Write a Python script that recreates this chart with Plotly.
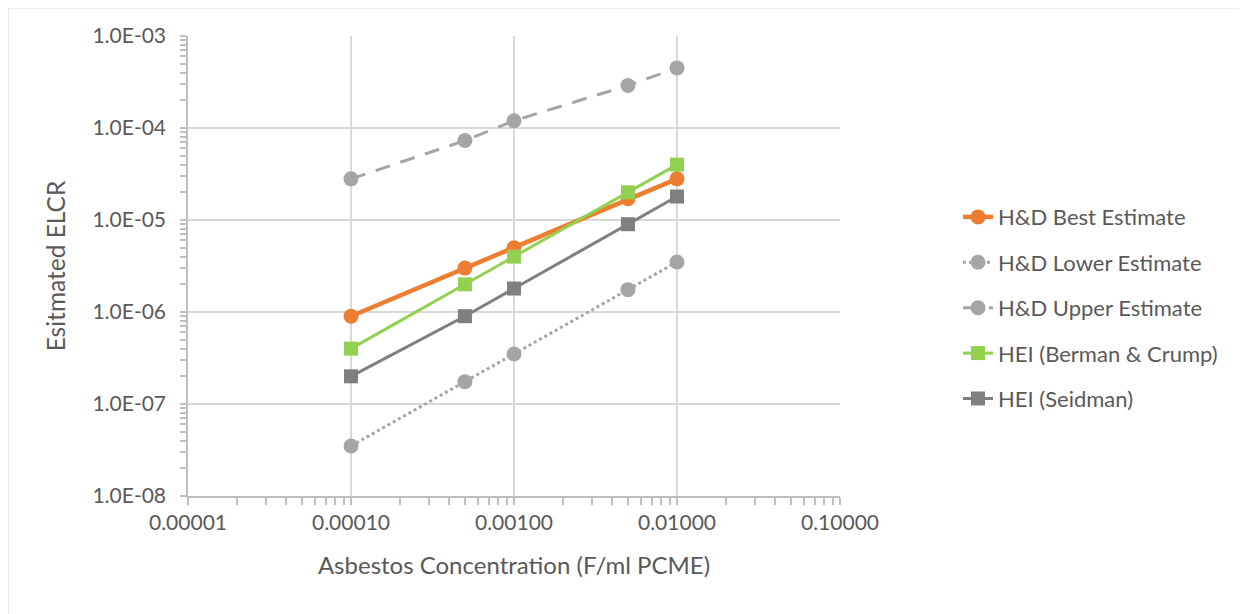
import plotly.graph_objects as go

# ---- data ----
concentration = [0.0001, 0.0005, 0.001, 0.005, 0.01]
hd_best = [9.0e-7, 3.0e-6, 5.0e-6, 1.7e-5, 2.8e-5]
hd_lower = [3.5e-8, 1.75e-7, 3.5e-7, 1.75e-6, 3.5e-6]
hd_upper = [2.8e-5, 7.3e-5, 1.2e-4, 2.9e-4, 4.5e-4]
hei_berman = [4.0e-7, 2.0e-6, 4.0e-6, 2.0e-5, 4.0e-5]
hei_seidman = [2.0e-7, 9.0e-7, 1.8e-6, 9.0e-6, 1.8e-5]

x_tickvals = [1e-5, 1e-4, 1e-3, 1e-2, 1e-1]
x_ticktext = ["0.00001", "0.00010", "0.00100", "0.01000", "0.10000"]
y_tickvals = [1e-8, 1e-7, 1e-6, 1e-5, 1e-4, 1e-3]
y_ticktext = ["1.0E-08", "1.0E-07", "1.0E-06", "1.0E-05", "1.0E-04", "1.0E-03"]

FONT = "Lato, 'Open Sans', sans-serif"
TXT = "#595959"
GRID = "#D9D9D9"
AXIS = "#BFBFBF"

series = [
    ("H&D Best Estimate", hd_best, "#ED7D31", "solid", 4.5, "circle", 15),
    ("H&D Lower Estimate", hd_lower, "#A5A5A5", "dot", 3, "circle", 15),
    ("H&D Upper Estimate", hd_upper, "#A5A5A5", "15px,11px", 3, "circle", 15),
    ("HEI (Berman & Crump)", hei_berman, "#92D050", "solid", 3, "square", 14),
    ("HEI (Seidman)", hei_seidman, "#7F7F7F", "solid", 3, "square", 14),
]

fig = go.Figure()
for i, (name, vals, color, dash, width, sym, msize) in enumerate(series):
    fig.add_trace(go.Scatter(
        x=concentration, y=vals, name=name, mode="lines+markers",
        line=dict(color=color, width=width, dash=dash),
        marker=dict(color=color, symbol=sym, size=msize),
        legendgroup=f"g{i}",
    ))

minor_x = [m * 10 ** e for e in range(-5, -1) for m in range(2, 10)]
minor_y = [m * 10 ** e for e in range(-8, -3) for m in range(2, 10)]

fig.update_xaxes(
    type="log", range=[-5, -1],
    tickmode="array", tickvals=x_tickvals, ticktext=x_ticktext,
    showgrid=True, gridcolor=GRID, gridwidth=1.5,
    showline=True, linecolor=AXIS, linewidth=1.5,
    ticks="outside", ticklen=7, tickcolor=AXIS, tickwidth=1.5,
    tickfont=dict(family=FONT, size=21, color=TXT),
    minor=dict(tickmode="array", tickvals=minor_x, ticks="outside", ticklen=7,
               tickcolor=AXIS, tickwidth=1.5, showgrid=False),
    title=dict(text="Asbestos Concentration (F/ml PCME)",
               font=dict(family=FONT, size=24, color=TXT), standoff=24),
    zeroline=False,
)
fig.update_yaxes(
    type="log", range=[-8, -3],
    tickmode="array", tickvals=y_tickvals, ticktext=y_ticktext,
    showgrid=True, gridcolor=GRID, gridwidth=1.5,
    showline=True, linecolor=AXIS, linewidth=1.5,
    ticks="outside", ticklen=6, tickcolor=AXIS, tickwidth=1.5,
    ticklabelstandoff=10,
    tickfont=dict(family=FONT, size=21, color=TXT),
    minor=dict(tickmode="array", tickvals=minor_y, ticks="outside", ticklen=6,
               tickcolor=AXIS, tickwidth=1.5, showgrid=False),
    title=dict(text="Esitmated ELCR",
               font=dict(family=FONT, size=24.5, color=TXT), standoff=20),
    zeroline=False,
)

fig.update_layout(
    width=1239, height=606,
    margin=dict(l=180, r=407, t=28, b=118),
    paper_bgcolor="white", plot_bgcolor="white",
    font=dict(family=FONT, color=TXT),
    legend=dict(
        x=1.181, y=0.652, xanchor="left", yanchor="top",
        font=dict(family=FONT, size=22, color=TXT),
        tracegroupgap=13.8, bgcolor="rgba(0,0,0,0)",
    ),
    shapes=[dict(type="rect", xref="paper", yref="paper",
                 x0=-0.2761, x1=1.6227, y0=-0.265, y1=1.0609,
                 line=dict(color="#D9D9D9", width=1.2), fillcolor="rgba(0,0,0,0)",
                 layer="below")],
    showlegend=True,
)

fig.write_html("out.html")
